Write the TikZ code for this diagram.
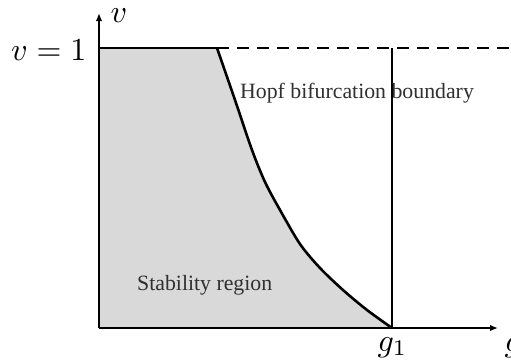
\documentclass[tikz,border=0pt]{standalone}
\usepackage{fontspec}
\newfontfamily\tnr{Liberation Serif}
\usetikzlibrary{arrows.meta}
\definecolor{regiongray}{HTML}{D9D9D9}
\definecolor{txtgray}{HTML}{303030}
\tikzset{
  bound/.style={line width=2.6pt, black},
  axis/.style={line width=2pt, black, -{Latex[length=8pt,width=6.5pt]}},
  mathlbl/.style={inner sep=0pt, scale=3.2},
  txtlbl/.style={inner sep=0pt, text=txtgray, font=\tnr\fontsize{21.8}{22}\selectfont},
}
\begin{document}
\begin{tikzpicture}[x=1pt,y=-1pt]
\useasboundingbox (0,0) rectangle (511,360);
\coordinate (O) at (99,328);
\coordinate (Ytop) at (99,13);
\coordinate (Xend) at (498,328);
\coordinate (TL) at (99,48);
\coordinate (K) at (217,48);
\coordinate (G) at (392,328);
\coordinate (GT) at (392,48);
\coordinate (DR) at (515,48);
% shaded region
\fill[regiongray] (O) -- (TL) -- (K)
  -- plot[smooth, tension=0.5] coordinates {(217,48) (235,100) (252,150) (265,182) (280,210) (300,244) (320,268) (343,290) (367,310) (392,328)}
  -- cycle;
% boundaries
\draw[bound] (TL) -- (K);
\draw[bound, dash pattern=on 12pt off 8pt] (K) -- (DR);
\draw[bound, line join=round] plot[smooth, tension=0.5] coordinates {(217,48) (235,100) (252,150) (265,182) (280,210) (300,244) (320,268) (343,290) (367,310) (392,328)};
\draw[bound] (G) -- (GT);
% axes
\draw[axis] (O) -- (Ytop);
\draw[axis] (O) -- (Xend);
\draw[line width=2pt] (O) -- (TL);
% labels
\node[mathlbl, anchor=base west] (vl) at (110,22) {$v$};
\node[mathlbl, anchor=base east] (v1) at (87,60) {$v=1$};
\node[mathlbl, anchor=base west] (g1) at (377,351) {$g_1$};
\node[mathlbl, anchor=base west] (gl) at (504,351) {$g$};
\node[txtlbl, anchor=base west] (hopf) at (240,98) {Hopf bifurcation boundary};
\node[txtlbl, anchor=base west] (stab) at (137,290) {Stability region};
\end{tikzpicture}
\end{document}
